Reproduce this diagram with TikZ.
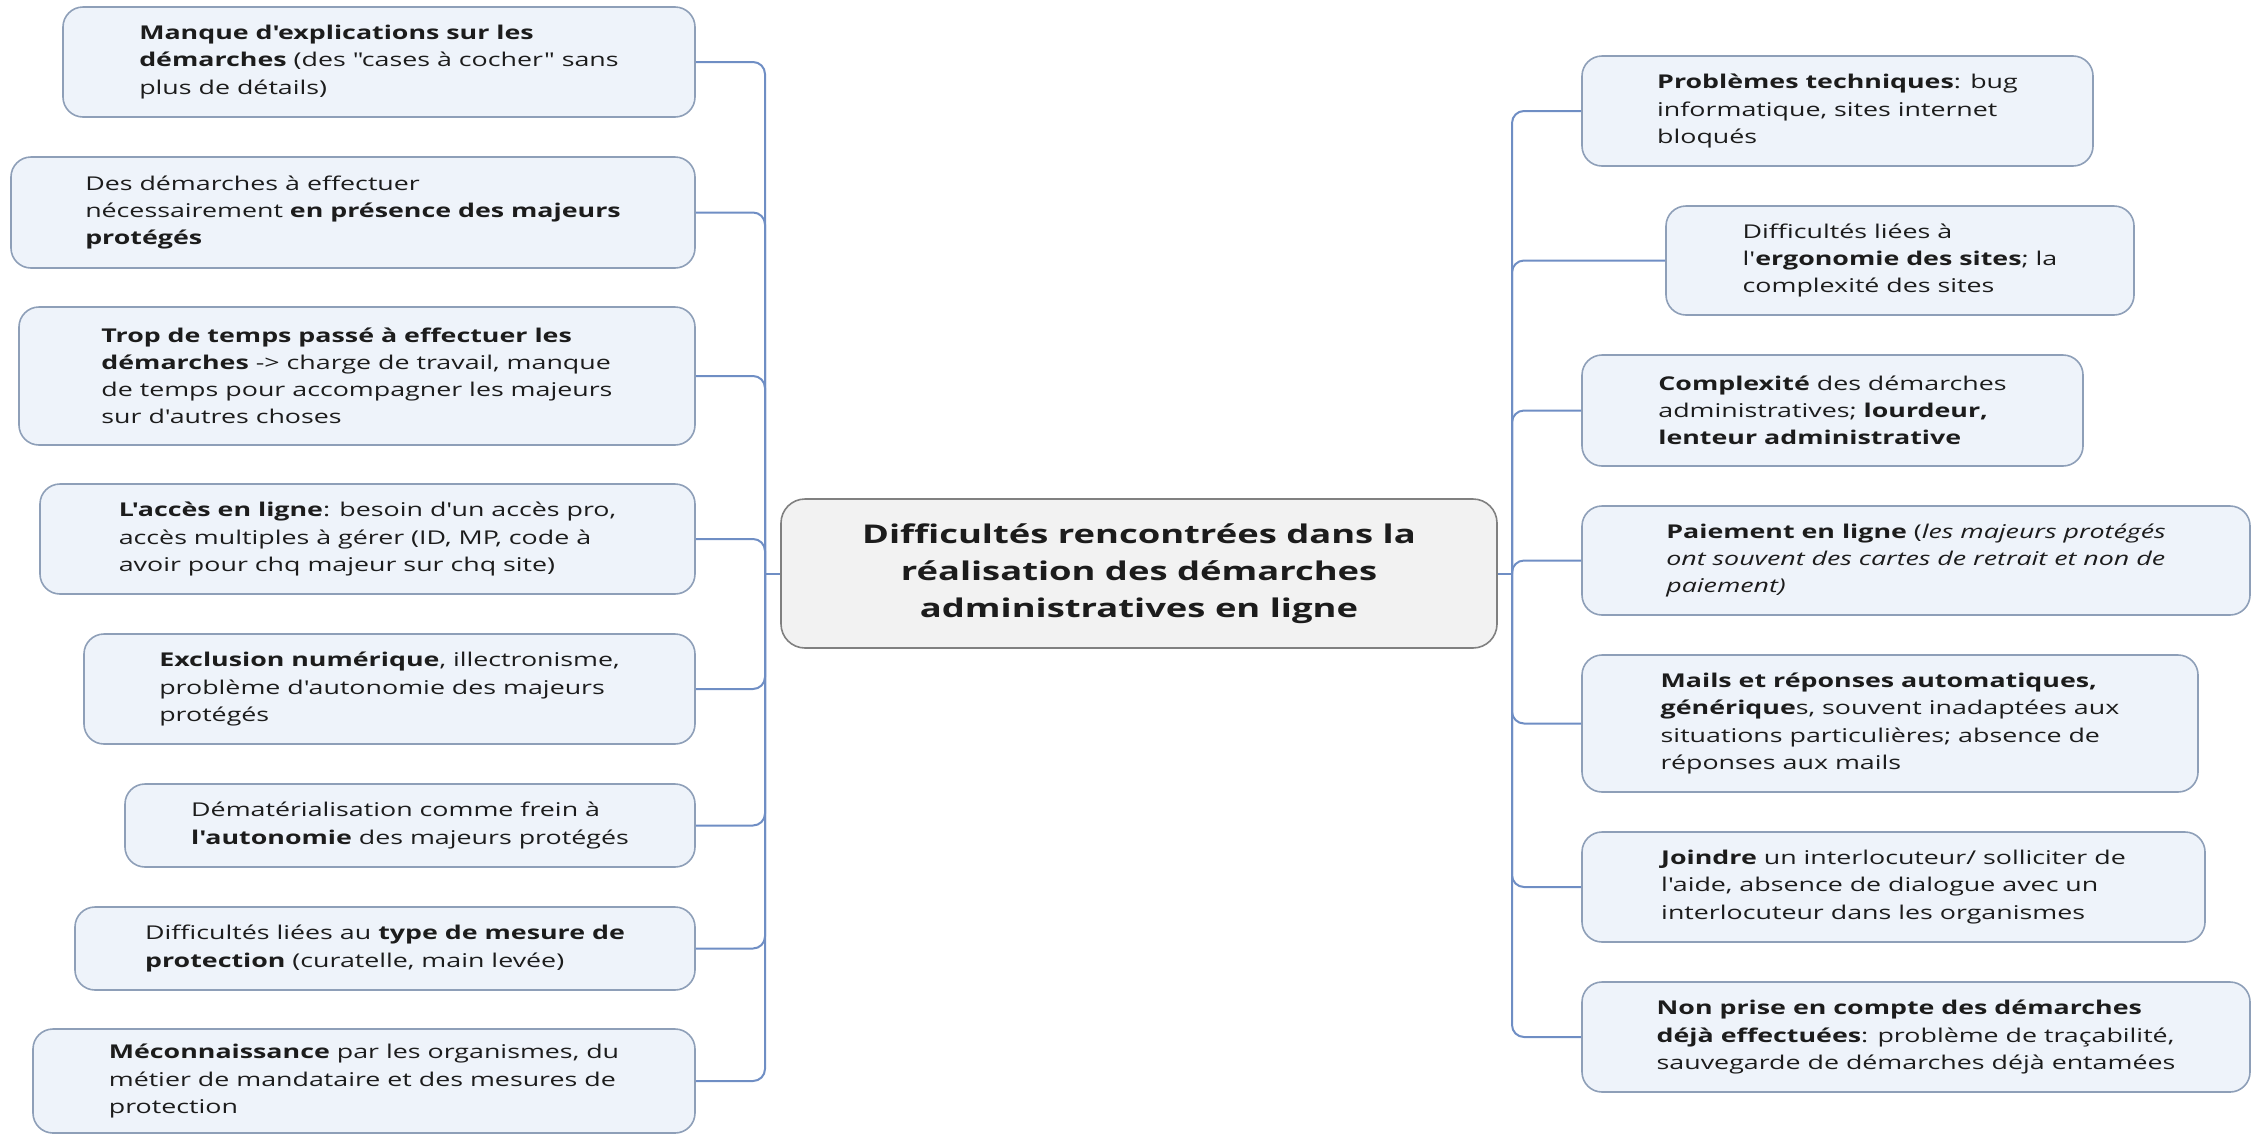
\documentclass[tikz,border=0pt]{standalone}
\usepackage{fontspec}
\newfontfamily\carte[FakeStretch=1.41]{Open Sans}

\definecolor{fondidee}{HTML}{EEF3FA}
\definecolor{bordidee}{HTML}{8E9FB8}
\definecolor{fondtheme}{HTML}{F2F2F2}
\definecolor{bordtheme}{HTML}{808080}
\definecolor{lien}{HTML}{6F8EC4}
\definecolor{texte}{HTML}{1C1C1C}

\tikzset{
  idee/.style={draw=bordidee, fill=fondidee, line width=0.8pt, rounded corners=10pt,
    align=left, inner sep=0pt, text=texte, font=\carte\fontsize{9.5}{13.6}\selectfont},
  theme/.style={draw=bordtheme, fill=fondtheme, line width=0.8pt, rounded corners=12pt,
    align=center, inner sep=0pt, text=texte, font=\carte\bfseries\fontsize{12.9}{18.5}\selectfont},
  branche/.style={draw=lien, line width=1pt, rounded corners=6pt}
}

\begin{document}
\begin{tikzpicture}[x=0.5pt,y=-0.5pt]
%\draw[gray,very thin] (0,0) grid (2257,1136); %background grid
\useasboundingbox (0,0) rectangle (2257,1136);

\node[theme, minimum width=358pt, minimum height=74.5pt] (centre) at (1139,573.5) {Difficultés rencontrées dans la\\réalisation des démarches\\administratives en ligne};

\node[idee, minimum width=316pt, minimum height=55pt] (g1) at (379,62) {\textbf{Manque d'explications sur les}\\\textbf{démarches} (des "cases à cocher" sans\\plus de détails)};
\node[idee, minimum width=342pt, minimum height=55.5pt] (g2) at (353,212.5) {Des démarches à effectuer\\nécessairement \textbf{en présence des majeurs}\\\textbf{protégés}};
\node[idee, minimum width=338pt, minimum height=69pt] (g3) at (357,376) {\textbf{Trop de temps passé à effectuer les}\\\textbf{démarches} -> charge de travail, manque\\de temps pour accompagner les majeurs\\sur d'autres choses};
\node[idee, minimum width=327.5pt, minimum height=55pt] (g4) at (367.5,539) {\textbf{L'accès en ligne}: besoin d'un accès pro,\\accès multiples à gérer (ID, MP, code à\\avoir pour chq majeur sur chq site)};
\node[idee, minimum width=305.5pt, minimum height=55pt] (g5) at (389.5,689) {\textbf{Exclusion numérique}, illectronisme,\\problème d'autonomie des majeurs\\protégés};
\node[idee, minimum width=285pt, minimum height=41.5pt] (g6) at (410,825.5) {Dématérialisation comme frein à\\\textbf{l'autonomie} des majeurs protégés};
\node[idee, minimum width=310pt, minimum height=41.5pt] (g7) at (385,948.5) {Difficultés liées au \textbf{type de mesure de}\\\textbf{protection} (curatelle, main levée)};
\node[idee, minimum width=331pt, minimum height=52pt] (g8) at (364,1081) {\textbf{Méconnaissance} par les organismes, du\\métier de mandataire et des mesures de\\protection};

\node[idee, minimum width=255.5pt, minimum height=55pt] (d1) at (1837.5,111) {\textbf{Problèmes techniques}: bug\\informatique, sites internet\\bloqués};
\node[idee, minimum width=234pt, minimum height=54.5pt] (d2) at (1900,260.5) {Difficultés liées à\\l'\textbf{ergonomie des sites}; la\\complexité des sites};
\node[idee, minimum width=250.5pt, minimum height=55.5pt] (d3) at (1832.5,410.5) {\textbf{Complexité} des démarches\\administratives; \textbf{lourdeur,}\\\textbf{lenteur administrative}};
\node[idee, minimum width=334pt, minimum height=54.5pt] (d4) at (1916,560.5) {\textbf{Paiement en ligne} (\textit{les majeurs protégés}\\\textit{ont souvent des cartes de retrait et non de}\\\textit{paiement)}};
\node[idee, minimum width=308pt, minimum height=68.5pt] (d5) at (1890,723.5) {\textbf{Mails et réponses automatiques,}\\\textbf{générique}s, souvent inadaptées aux\\situations particulières; absence de\\réponses aux mails};
\node[idee, minimum width=311.5pt, minimum height=55pt] (d6) at (1893.5,887) {\textbf{Joindre} un interlocuteur/ solliciter de\\l'aide, absence de dialogue avec un\\interlocuteur dans les organismes};
\node[idee, minimum width=334pt, minimum height=55pt] (d7) at (1916,1037) {\textbf{Non prise en compte des démarches}\\\textbf{déjà effectuées}: problème de traçabilité,\\sauvegarde de démarches déjà entamées};

\coordinate (jg) at (765,573.5);
\coordinate (jd) at (1512,573.5);

\draw[branche] (g1.east) -| (jg);
\draw[branche] (g2.east) -| (jg);
\draw[branche] (g3.east) -| (jg);
\draw[branche] (g4.east) -| (jg);
\draw[branche] (g5.east) -| (jg);
\draw[branche] (g6.east) -| (jg);
\draw[branche] (g7.east) -| (jg);
\draw[branche] (g8.east) -| (jg);
\draw[branche] (jg) -- (centre.west);

\draw[branche] (d1.west) -| (jd);
\draw[branche] (d2.west) -| (jd);
\draw[branche] (d3.west) -| (jd);
\draw[branche] (d4.west) -| (jd);
\draw[branche] (d5.west) -| (jd);
\draw[branche] (d6.west) -| (jd);
\draw[branche] (d7.west) -| (jd);
\draw[branche] (centre.east) -- (jd);

\end{tikzpicture}
\end{document}
